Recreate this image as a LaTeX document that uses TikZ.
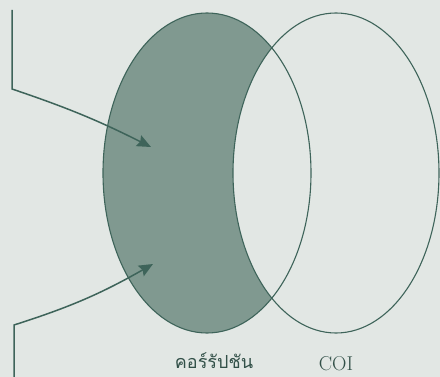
\documentclass[tikz,border=0pt]{standalone}
\usepackage{fontspec}
\newfontfamily\thaifont[Script=Thai]{Loma}
\usetikzlibrary{arrows.meta}
\definecolor{paperbg}{RGB}{226, 231, 228}
\definecolor{setfill}{RGB}{128, 153, 144}
\definecolor{setline}{RGB}{62, 100, 90}

\begin{document}
\begin{tikzpicture}[
    x=1pt, y=-1pt,
    setedge/.style={draw=setline, line width=1.1pt},
    pointer/.style={-{Stealth[length=14pt, width=12pt, inset=2pt]}, setline, line width=1.5pt},
    setlabel/.style={font=\fontsize{20}{22}\selectfont, text=setline!80!black, inner sep=1pt},
]
    % Background
    \fill[paperbg] (0,0) rectangle (440,377);
    \useasboundingbox (0,0) rectangle (440,377);

    % Corruption minus COI
    \begin{scope}
      \clip (207,173) ellipse [x radius=104, y radius=160];
      \fill[setfill] (207,173) ellipse [x radius=104, y radius=160];
      \fill[paperbg] (336,173) ellipse [x radius=103, y radius=160];
    \end{scope}

    % Sets
    \draw[setedge] (207,173) ellipse [x radius=104, y radius=160];
    \draw[setedge] (336,173) ellipse [x radius=103, y radius=160];

    % Labels
    \node[setlabel, font=\thaifont\fontsize{18}{20}\selectfont] (corrupt) at (214,361) {คอร์รัปชัน};
    \node[setlabel] (coi) at (336,364) {COI};

    % Pointers
    \coordinate (upstart) at (12,10);
    \coordinate (upbend) at (12,89);
    \coordinate (uptip) at (151,147);
    \coordinate (lostart) at (14,377);
    \coordinate (lobend) at (14,325);
    \coordinate (lotip) at (153,264);

    \draw[pointer] (upstart) -- (upbend) to[bend left=4] (uptip);
    \draw[pointer] (lostart) -- (lobend) to[bend right=6] (lotip);
\end{tikzpicture}
\end{document}
